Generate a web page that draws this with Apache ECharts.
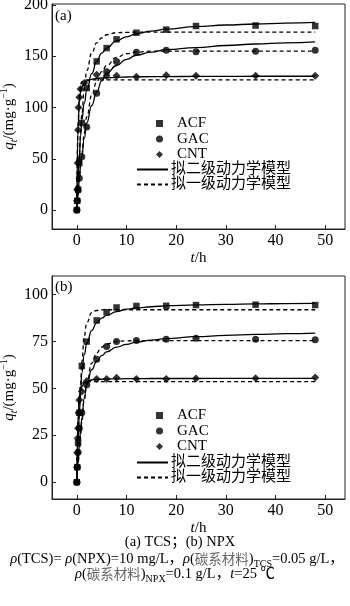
<!DOCTYPE html>
<html><head><meta charset="utf-8">
<script src="https://cdn.jsdelivr.net/npm/echarts@6/dist/echarts.min.js"></script>
<style>html,body{margin:0;padding:0;background:#fff}#c{width:350px;height:606px}</style>
</head><body><div id="c"></div>
<script>
// ---- (a) TCS measured data ----
const tA_ACF = [0,0.083,0.25,0.5,1,2,4,6,8,12,18,24,36,48];
const qA_ACF = [0,9,20,46,85,119,145,158,166.5,173,176,179.5,180,179.5];
const tA_GAC = [0,0.083,0.25,0.5,1,2,4,6,8,12,18,24,36,48];
const qA_GAC = [0,9,19.5,31,52,81,114,135,145,154,156,154.5,155,156];
const tA_CNT = [0,0.033,0.083,0.167,0.25,0.333,0.5,0.75,1.5,4,6,8,12,18,24,36,48];
const qA_CNT = [0,9,20,46,78,100,110,118,124,132,131,131,130,131.5,131,131,131];
// ---- (b) NPX measured data ----
const tB_ACF = [0,0.083,0.25,0.5,1,2,4,6,8,12,18,24,36,48];
const qB_ACF = [0,8,21,37,62,75,86.3,90.7,93.2,94,94.1,94.5,94.7,94.5];
const tB_GAC = [0,0.083,0.25,0.5,1,2,4,6,8,12,18,24,36,48];
const qB_GAC = [0,8,16,28.7,37,52,65.6,72.4,75,75.6,76.3,76.8,76.3,76];
const tB_CNT = [0,0.033,0.083,0.167,0.25,0.333,0.5,1,2,4,6,8,12,18,24,36,48];
const qB_CNT = [0,8,15.7,23.4,28.7,37,43.8,48.3,54,55,55,55.7,55,55,55.3,55.5,55.8];
// ---- fitted curves ----
const tFit = [0,0.25,0.5,0.75,1,1.5,2,3,4,5,6,8,10,12,15,18,24,30,36,42,48];
const A_PSO_ACF = [0,30,52,72,88,104,117,133,145,153,158,165,169,172,174.5,176.5,179,180.5,181.5,182.3,183];
const A_PFO_ACF = [0,28,53,75,93,118,136,153,163,168,171,173,173.4,173.5,173.5,173.5,173.5,173.5,173.5,173.5,173.5];
const A_PSO_GAC = [0,15,30,42,52,70,85,102,115,126,133.5,141,147,151,154,156.5,158.5,160.5,162,163,164];
const A_PFO_GAC = [0,15,30,43,55,75,91,112,125,135,141,149,152.5,154,155,155,155,155,155,155,155];
const A_PSO_CNT = [0,80,105,115,120,124,126,127.5,128.3,128.8,129,129.5,129.8,130,130.1,130.2,130.3,130.4,130.5,130.5,130.5];
const A_PFO_CNT = [0,85,112,122,125,126.7,127,127,127,127,127,127,127,127,127,127,127,127,127,127,127];
const B_PSO_ACF = [0,20,36,48,58,68,74,81,85,87.5,89,91,92.3,93,93.6,94.1,94.6,94.9,95.1,95.3,95.4];
const B_PFO_ACF = [0,20,38,52,64,78,85,90.5,91.6,91.9,92,92,92,92,92,92,92,92,92,92,92];
const B_PSO_GAC = [0,10,19,27,34,45,52,60,64.5,67.5,69.5,72,73.5,74.7,75.8,76.6,77.6,78.3,78.8,79.2,79.5];
const B_PFO_GAC = [0,9,17.5,25,32,44,53,63.5,69,72,73.7,75,75.4,75.5,75.5,75.5,75.5,75.5,75.5,75.5,75.5];
const B_PSO_CNT = [0,35,45,49,51,53,53.8,54.5,54.8,54.9,55,55.1,55.2,55.2,55.3,55.3,55.3,55.4,55.4,55.4,55.4];
const B_PFO_CNT = [0,33,46,51,52.8,53.4,53.6,53.6,53.6,53.6,53.6,53.6,53.6,53.6,53.6,53.6,53.6,53.6,53.6,53.6,53.6];
// ---- ticks ----
const xTicks = [0,10,20,30,40,50];
const yTicksA = [0,50,100,150,200];
const yTicksB = [0,25,50,75,100];
const materials = ['ACF','GAC','CNT'];
const PSO_NAME = '拟二级动力学模型';
const PFO_NAME = '拟一级动力学模型';

const SERIF = 'Liberation Serif, "Noto Sans CJK SC"';
const zip = (t, q) => t.map((v, i) => [v, q[i]]);
const symbols = {ACF: 'rect', GAC: 'circle', CNT: 'diamond'};
const sizes = {ACF: 6.5, GAC: 7, CNT: 8};

const measured = [
  {ACF: zip(tA_ACF, qA_ACF), GAC: zip(tA_GAC, qA_GAC), CNT: zip(tA_CNT, qA_CNT)},
  {ACF: zip(tB_ACF, qB_ACF), GAC: zip(tB_GAC, qB_GAC), CNT: zip(tB_CNT, qB_CNT)}
];
const pso = [[A_PSO_ACF, A_PSO_GAC, A_PSO_CNT], [B_PSO_ACF, B_PSO_GAC, B_PSO_CNT]];
const pfo = [[A_PFO_ACF, A_PFO_GAC, A_PFO_CNT], [B_PFO_ACF, B_PFO_GAC, B_PFO_CNT]];

const series = [];
[0, 1].forEach(g => {
  materials.forEach((m, i) => {
    series.push({type: 'line', name: PSO_NAME, xAxisIndex: g, yAxisIndex: g, data: zip(tFit, pso[g][i]),
      symbol: 'none', smooth: true, smoothMonotone: 'x', lineStyle: {color: '#000', width: 1.3}, itemStyle: {color: '#000'}, z: 2});
    series.push({type: 'line', name: PFO_NAME, xAxisIndex: g, yAxisIndex: g, data: zip(tFit, pfo[g][i]),
      symbol: 'none', smooth: true, smoothMonotone: 'x', lineStyle: {color: '#000', width: 1.3, type: [4, 3]}, itemStyle: {color: '#000'}, z: 2});
  });
  materials.forEach(m => {
    series.push({type: 'scatter', name: m, xAxisIndex: g, yAxisIndex: g, data: measured[g][m],
      symbol: symbols[m], symbolSize: sizes[m], itemStyle: {color: '#000'}, z: 3});
  });
});

const yName = {
  text: '{i|q}{s|t}/(mg·g{p|−1})',
  rich: {
    i: {fontStyle: 'italic', fontSize: 15, fontFamily: SERIF, lineHeight: 20, color: '#000'},
    s: {fontStyle: 'italic', fontSize: 10, fontFamily: SERIF, lineHeight: 10, verticalAlign: 'bottom', color: '#000'},
    p: {fontSize: 10, fontFamily: SERIF, lineHeight: 10, verticalAlign: 'top', color: '#000'}
  }
};

function xAxis(g) {
  return {type: 'value', gridIndex: g, min: -5, max: 54,
    name: '{i|t}/h', nameLocation: 'middle', nameGap: 22, nameMoveOverlap: false,
    nameTextStyle: {fontSize: 15, fontFamily: SERIF, color: '#000', rich: {i: {fontStyle: 'italic', fontSize: 15, fontFamily: SERIF, color: '#000'}}},
    axisLine: {show: true, onZero: false, lineStyle: {color: '#222', width: 1}},
    axisTick: {show: true, inside: true, length: 4, customValues: xTicks, lineStyle: {color: '#222'}},
    axisLabel: {customValues: xTicks, fontSize: 16, fontFamily: SERIF, color: '#000', margin: 4},
    splitLine: {show: false}};
}
function yAxis(g, min, max, ticks) {
  return {type: 'value', gridIndex: g, min: min, max: max,
    name: yName.text, nameLocation: 'middle', nameGap: 33, nameRotate: 90, nameMoveOverlap: false,
    nameTextStyle: {fontSize: 15, fontFamily: SERIF, color: '#000', rich: yName.rich},
    axisLine: {show: true, onZero: false, lineStyle: {color: '#222', width: 1}},
    axisTick: {show: true, inside: true, length: 4, customValues: ticks, lineStyle: {color: '#222'}},
    axisLabel: {customValues: ticks, fontSize: 16, fontFamily: SERIF, color: '#000', margin: 4},
    splitLine: {show: false}};
}

const legendText = {fontSize: 15, fontFamily: SERIF, color: '#000', lineHeight: 15};
function markerLegend(top) {
  return {data: materials.map(m => ({name: m, icon: symbols[m]})), orient: 'vertical', left: 156, top: top,
    itemWidth: 7, itemHeight: 7, itemGap: 0.5, symbolKeepAspect: true,
    selectedMode: false, textStyle: Object.assign({padding: [0, 0, 0, 9]}, legendText), padding: 0};
}
function lineLegend(top) {
  return {data: [PSO_NAME, PFO_NAME], orient: 'vertical', left: 136, top: top, itemWidth: 31, itemHeight: 8, itemGap: 0,
    itemStyle: {opacity: 0, color: 'rgba(0,0,0,0)', borderWidth: 0},
    selectedMode: false, textStyle: Object.assign({padding: [0, 0, 0, -2]}, legendText), padding: 0};
}

const capRich = {
  i: {fontStyle: 'italic', fontSize: 14.5, fontFamily: SERIF, fill: '#000', lineHeight: 20},
  c: {fontSize: 13.5, fontFamily: '"Noto Sans CJK SC"', fill: '#666', lineHeight: 20},
  s: {fontSize: 10, fontFamily: SERIF, fill: '#000', lineHeight: 10, verticalAlign: 'bottom'},
  n: {fontSize: 14.5, fontFamily: SERIF, fill: '#000', lineHeight: 20}
};
function capText(text, x, y) {
  return {type: 'text', x: x, y: y, style: {text: text, rich: capRich, fontSize: 14.5, fontFamily: SERIF, fill: '#000',
    align: 'center', verticalAlign: 'middle'}};
}

const chart = echarts.init(document.getElementById('c'), null, {renderer: 'canvas'});
chart.setOption({
  animation: false,
  backgroundColor: '#fff',
  grid: [
    {left: 52, right: 5, top: 4, height: 225, show: true, borderColor: '#222', borderWidth: 1, containLabel: false, outerBoundsMode: 'none'},
    {left: 52, right: 5, top: 276, height: 223, show: true, borderColor: '#222', borderWidth: 1, containLabel: false, outerBoundsMode: 'none'}
  ],
  xAxis: [xAxis(0), xAxis(1)],
  yAxis: [yAxis(0, -18.5, 201, yTicksA), yAxis(1, -9, 110, yTicksB)],
  legend: [markerLegend(116), lineLegend(162), markerLegend(408), lineLegend(455)],
  series: series,
  graphic: [
    {type: 'text', x: 55, y: 16, style: {text: '(a)', fontSize: 15, fontFamily: SERIF, fill: '#000', verticalAlign: 'middle'}},
    {type: 'text', x: 55, y: 287, style: {text: '(b)', fontSize: 15, fontFamily: SERIF, fill: '#000', verticalAlign: 'middle'}},
    capText('{n|(a) TCS；(b) NPX}', 180, 542),
    capText('{i|ρ}{n|(TCS)= }{i|ρ}{n|(NPX)=10 mg/L，}{i|ρ}{n|(}{c|碳系材料}{n|)}{s|TCS}{n|=0.05 g/L，}', 177, 559),
    capText('{i|ρ}{n|(}{c|碳系材料}{n|)}{s|NPX}{n|=0.1 g/L，}{i|t}{n|=25 ℃}', 175, 574)
  ]
});
</script></body></html>
